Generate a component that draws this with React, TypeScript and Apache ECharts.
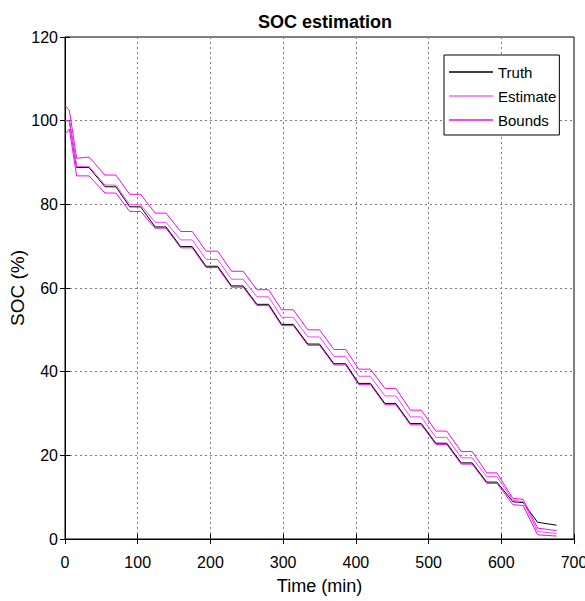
import React, { useEffect, useRef } from 'react';
import * as echarts from 'echarts';

// Time axis (min) at the breakpoints of the step-like discharge profile
const timeMin = [0, 6, 16, 33, 55, 70, 89, 104, 124, 139, 159, 175, 194, 210, 229, 245, 264, 280, 298, 314, 334, 350, 370, 386, 404, 420, 440, 455, 475, 490, 510, 525, 545, 560, 580, 594, 616, 630, 650, 676];

const truthSoc = [100, 100, 88.8, 88.8, 84.2, 84.2, 79.4, 79.4, 74.6, 74.6, 69.9, 69.9, 65.2, 65.2, 60.5, 60.5, 56.1, 56.1, 51.3, 51.3, 46.6, 46.6, 41.9, 41.9, 37.2, 37.2, 32.4, 32.4, 27.6, 27.6, 22.9, 22.9, 18.2, 18.2, 13.6, 13.6, 8.9, 8.7, 4.0, 3.3];

const estimateSoc = [100, 100, 89.0, 89.1, 84.6, 84.6, 79.9, 79.9, 75.7, 75.7, 71.5, 71.5, 66.8, 66.8, 62.1, 62.1, 57.9, 57.9, 53.0, 53.0, 48.3, 48.3, 43.6, 43.6, 38.9, 38.9, 34.2, 34.2, 29.2, 29.2, 24.3, 24.3, 19.4, 19.4, 14.9, 14.9, 9.2, 9.0, 1.8, 1.3];

const upperBound = [103.6, 102.5, 91.0, 91.3, 87.0, 87.0, 82.4, 82.4, 77.9, 77.9, 73.5, 73.5, 68.8, 68.8, 64.0, 64.0, 59.6, 59.6, 54.8, 54.8, 50.0, 50.0, 45.3, 45.3, 40.6, 40.6, 36.0, 36.0, 30.8, 30.8, 25.8, 25.8, 20.9, 20.9, 15.8, 15.8, 9.7, 9.5, 2.6, 2.0];

const lowerBound = [96.8, 98.0, 86.8, 86.8, 82.7, 82.7, 78.3, 78.3, 74.3, 74.3, 69.6, 69.6, 64.9, 64.9, 60.2, 60.2, 55.8, 55.8, 51.0, 51.0, 46.3, 46.3, 41.6, 41.6, 36.9, 36.9, 32.1, 32.1, 27.3, 27.3, 22.6, 22.6, 17.9, 17.9, 13.3, 13.3, 8.2, 8.0, 1.0, 0.7];

const legendNames = ['Truth', 'Estimate', 'Bounds'];

export default function App() {
  const ref = useRef<HTMLDivElement>(null);
  useEffect(() => {
    const chart = echarts.init(ref.current!, null, { renderer: 'svg' });
    const font = "'Liberation Sans', Arial, sans-serif";
    const pairs = (ys: number[]) => timeMin.map((t, i) => [t, ys[i]]);
    const gridLine = { show: true, lineStyle: { color: '#808080', type: [2, 3] as any, width: 1 } };
    chart.setOption({
      animation: false,
      backgroundColor: '#fff',
      title: {
        text: 'SOC estimation',
        left: 253,
        top: 8,
        textStyle: { fontFamily: font, fontWeight: 'bold', fontSize: 18, color: '#000' },
      },
      grid: { left: 65, right: 11, top: 37, bottom: 62, show: true, borderColor: '#000', borderWidth: 1, backgroundColor: '#fff', outerBoundsMode: 'none', containLabel: false },
      legend: {
        data: legendNames,
        orient: 'vertical',
        left: 444,
        top: 55,
        padding: [8, 3, 6, 5],
        itemGap: 6,
        itemWidth: 44,
        itemHeight: 1.5,
        icon: 'rect',
        borderColor: '#000',
        borderWidth: 1,
        backgroundColor: '#fff',
        textStyle: { fontFamily: font, fontSize: 15, color: '#000', lineHeight: 18 },
      },
      xAxis: [
        {
          type: 'value', min: 0, max: 700, interval: 100,
          name: 'Time (min)', nameLocation: 'middle', nameGap: 38, nameMoveOverlap: false,
          nameTextStyle: { fontFamily: font, fontSize: 18, color: '#000' },
          axisLine: { show: true, lineStyle: { color: '#000', width: 1 } },
          axisTick: { show: true, inside: true, length: 5, lineStyle: { color: '#000' } },
          axisLabel: { fontFamily: font, fontSize: 16, color: '#000', margin: 15 },
          splitLine: gridLine,
        },
        {
          type: 'value', position: 'top', min: 0, max: 700, interval: 100,
          axisLine: { show: true, lineStyle: { color: '#000', width: 1 } },
          axisTick: { show: true, inside: true, length: 5, lineStyle: { color: '#000' } },
          axisLabel: { show: false }, splitLine: { show: false },
        },
      ],
      yAxis: [
        {
          type: 'value', min: 0, max: 120, interval: 20,
          name: 'SOC (%)', nameLocation: 'middle', nameGap: 38, nameRotate: 90, nameMoveOverlap: false,
          nameTextStyle: { fontFamily: font, fontSize: 19, color: '#000' },
          axisLine: { show: true, lineStyle: { color: '#000', width: 1 } },
          axisTick: { show: true, inside: true, length: 5, lineStyle: { color: '#000' } },
          axisLabel: { fontFamily: font, fontSize: 16, color: '#000', margin: 7 },
          splitLine: gridLine,
        },
        {
          type: 'value', position: 'right', min: 0, max: 120, interval: 20,
          axisLine: { show: true, lineStyle: { color: '#000', width: 1 } },
          axisTick: { show: true, inside: true, length: 5, lineStyle: { color: '#000' } },
          axisLabel: { show: false }, splitLine: { show: false },
        },
      ],
      series: [
        { name: 'Truth', type: 'line', data: pairs(truthSoc), symbol: 'none', lineStyle: { color: '#000', width: 1 }, itemStyle: { color: '#000' }, z: 3 },
        { name: 'Estimate', type: 'line', data: pairs(estimateSoc), symbol: 'none', lineStyle: { color: '#ff40ff', width: 1 }, itemStyle: { color: '#ff60ff' }, z: 4 },
        { name: 'Bounds', type: 'line', data: pairs(upperBound), symbol: 'none', lineStyle: { color: '#ff00ff', width: 1 }, itemStyle: { color: '#ff00ff' }, z: 4 },
        { name: 'Bounds', type: 'line', data: pairs(lowerBound), symbol: 'none', lineStyle: { color: '#ff00ff', width: 1 }, itemStyle: { color: '#ff00ff' }, z: 2 },
      ],
    });
    return () => chart.dispose();
  }, []);
  return <div ref={ref} style={{ position: 'fixed', left: 0, top: 0, width: 585, height: 601 }} />;
}
